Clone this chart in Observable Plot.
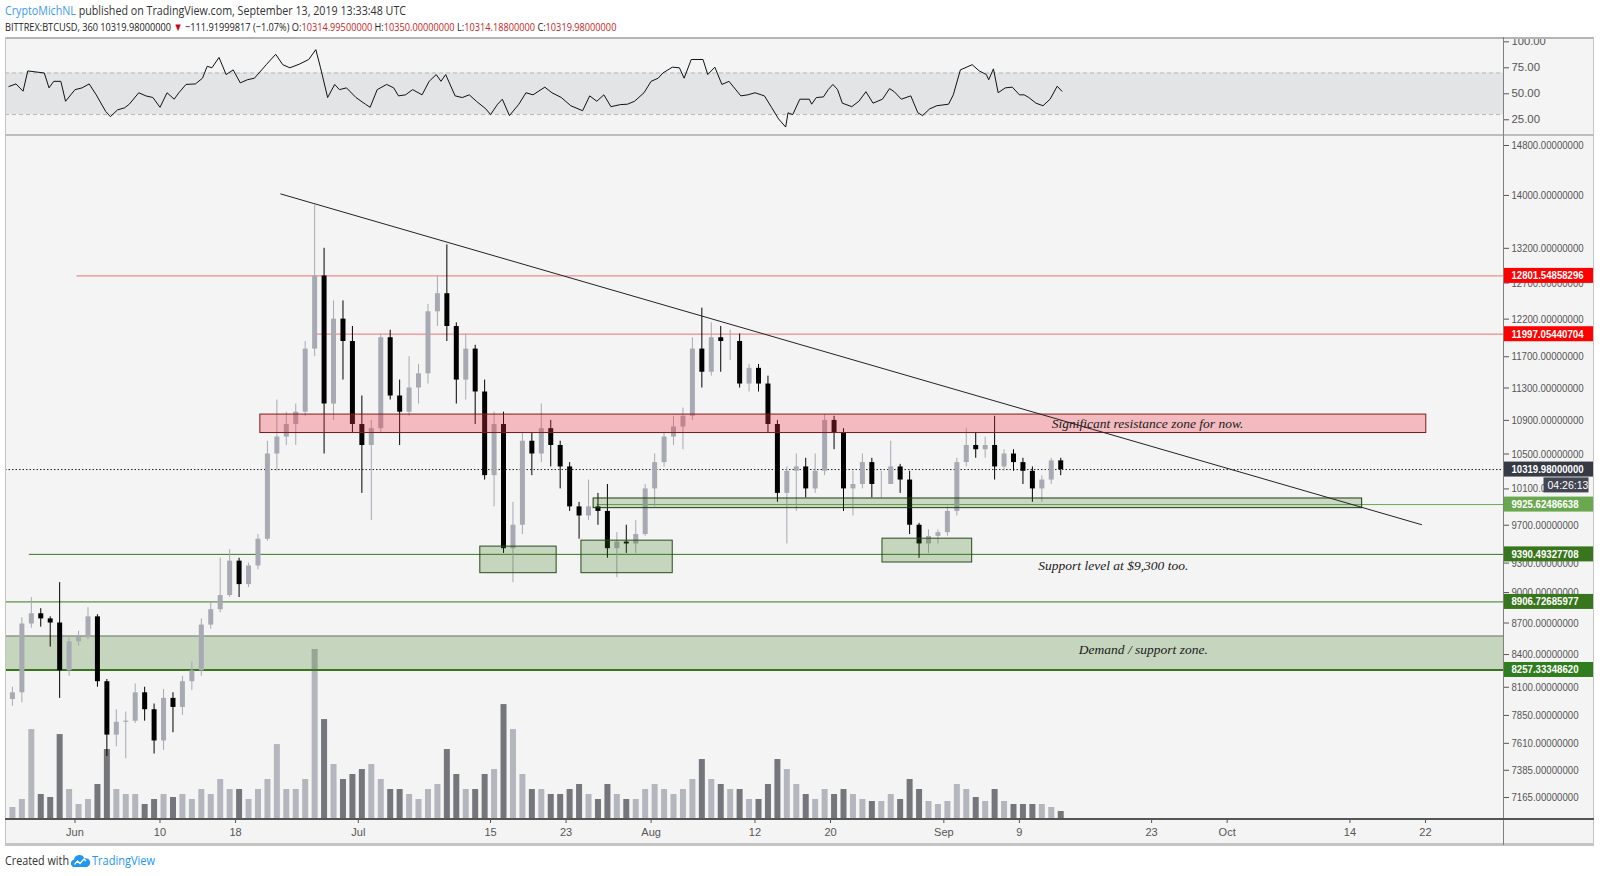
<!DOCTYPE html>
<html>
<head>
<meta charset="utf-8">
<script src="https://cdn.jsdelivr.net/npm/d3@7"></script>
<script src="https://cdn.jsdelivr.net/npm/@observablehq/plot@0.6"></script>
<style>
  html, body { margin:0; padding:0; background:#ffffff; }
  body { width:1600px; height:876px; position:relative; overflow:hidden; font-family:"Liberation Sans", Arial, sans-serif; }
  .abs { position:absolute; }
</style>
</head>
<body>
<svg class="abs" id="hdr" style="left:0;top:0" width="1600" height="36">
  <text id="h1" x="0" y="0" font-family="Open Sans" font-size="12" fill="#333"><tspan fill="#3d9be9">CryptoMichNL</tspan> published on TradingView.com, September 13, 2019 13:33:48 UTC</text>
  <text id="h2" x="0" y="0" font-family="Open Sans" font-size="11.5" fill="#222">BITTREX:BTCUSD, 360 10319.98000000 <tspan fill="#d0021b">▼</tspan> −111.91999817 (−1.07%) O:<tspan fill="#c62828">10314.99500000</tspan> H:<tspan fill="#c62828">10350.00000000</tspan> L:<tspan fill="#c62828">10314.18800000</tspan> C:<tspan fill="#c62828">10319.98000000</tspan></text>
</svg>
<div class="abs" style="left:5px;top:37px;width:1589px;height:808px;background:#f4f4f4"></div>
<div class="abs" id="rsiPane" style="left:0;top:36px"></div>
<div class="abs" id="volPane" style="left:0;top:134px"></div>
<div class="abs" id="mainPane" style="left:0;top:134px"></div>
<div class="abs" style="left:5px;top:37px;width:1589px;height:2px;background:#b4b4b4"></div>
<div class="abs" style="left:5px;top:37px;width:1px;height:808px;background:#c4c4c4"></div>
<div class="abs" style="left:1593px;top:37px;width:1px;height:808px;background:#c4c4c4"></div>
<div class="abs" style="left:5px;top:843px;width:1589px;height:3px;background:#c4c4c4"></div>
<div class="abs" style="left:5px;top:134px;width:1589px;height:2px;background:#bdbdbd"></div>
<div class="abs" style="left:1503px;top:37px;width:1px;height:808px;background:#808080"></div>
<div class="abs" style="left:5px;top:818px;width:1589px;height:2px;background:#555555"></div>
<svg class="abs" style="left:0;top:846px" width="300" height="30">
  <text x="5" y="19" font-family="Open Sans" font-size="12" textLength="64" lengthAdjust="spacingAndGlyphs" fill="#333">Created with</text>
  <path d="M73,21 a4,4 0 0 1 1,-7.5 a5.5,5.5 0 0 1 10.5,-1 a4.3,4.3 0 0 1 2.5,8.5 z" fill="#2196f3"/>
  <polyline points="74.5,18.5 77.5,15 80,17.5 84,13 86,15" fill="none" stroke="#ffffff" stroke-width="1.3"/>
  <text x="92" y="19" font-family="Open Sans" font-size="12" textLength="63" lengthAdjust="spacingAndGlyphs" fill="#2196f3">TradingView</text>
</svg>
<script>
// ---------------- DATA ----------------
const candleDays = ["05-25","05-26","05-27","05-28","05-29","05-30","05-31","06-01","06-02","06-03","06-04","06-05","06-06","06-07","06-08","06-09","06-10","06-11","06-12","06-13","06-14","06-15","06-16","06-17","06-18","06-19","06-20","06-21","06-22","06-23","06-24","06-25","06-26","06-27","06-28","06-29","06-30","07-01","07-02","07-03","07-04","07-05","07-06","07-07","07-08","07-09","07-10","07-11","07-12","07-13","07-14","07-15","07-16","07-17","07-18","07-19","07-20","07-21","07-22","07-23","07-24","07-25","07-26","07-27","07-28","07-29","07-30","07-31","08-01","08-02","08-03","08-04","08-05","08-06","08-07","08-08","08-09","08-10","08-11","08-12","08-13","08-14","08-15","08-16","08-17","08-18","08-19","08-20","08-21","08-22","08-23","08-24","08-25","08-26","08-27","08-28","08-29","08-30","08-31","09-01","09-02","09-03","09-04","09-05","09-06","09-07","09-08","09-09","09-10","09-11","09-12","09-13"];
const opens  = [7990,8050,8690,8790,8740,8700,8250,8520,8560,8760,8150,7680,7790,7800,8050,7900,7630,8000,7920,8150,8250,8680,8830,8970,9320,9080,9270,9550,10500,10700,10850,11000,11800,12800,11100,12200,11900,10850,10600,10800,11950,11200,11000,11300,11480,12300,12550,12100,11400,11800,11250,10250,10850,9450,9700,10650,10500,10800,10600,10350,9900,9800,9900,9850,9450,9520,9500,9600,10100,10400,10700,10820,10950,11800,11500,11950,11900,11900,11350,11550,11350,10850,10050,10300,10350,10100,10300,10900,10750,10100,10150,10400,10150,10150,10350,10200,9700,9500,9580,9620,9850,10400,10600,10550,10600,10350,10500,10400,10300,10100,10200,10420];
const highs  = [8100,8750,8950,8840,8760,9100,8570,8620,8850,8780,8170,7900,7880,8130,8100,7950,8080,8050,8200,8330,8740,8900,9350,9440,9350,9300,9600,10650,11150,11000,11100,11900,13850,13200,12450,12450,12100,11200,10900,12000,12050,11400,11700,11600,12400,12800,13250,12150,12000,11850,11400,11000,11000,9950,10750,10750,11100,10900,10650,10400,9950,10200,10050,10150,9620,9700,9750,10150,10500,10750,10950,11050,11950,12350,12150,12100,12050,12000,11600,11600,11450,10900,10350,10500,10450,10500,10970,10950,10800,10300,10500,10450,10300,10650,10380,10300,9720,9650,9650,9900,10450,10800,10750,10700,10950,10550,10550,10450,10350,10250,10450,10450];
const lows   = [7930,7960,8650,8660,8470,8000,8200,8480,8540,8100,7500,7580,7480,7780,7800,7520,7550,7700,7850,8070,8200,8640,8800,8950,8950,9050,9230,9530,10300,10600,10600,10950,11700,10500,10900,11400,10750,10050,9750,10750,11150,10600,10950,11100,11350,12100,11900,11100,11150,10850,10200,9900,9400,9100,9600,10250,10400,10350,10100,9850,9550,9750,9700,9350,9150,9400,9400,9580,9900,10350,10600,10550,10900,11300,11450,11500,11650,11300,11250,11250,10750,9950,9500,9850,10000,10050,10250,10550,9850,9800,10100,10000,10000,10150,10050,9600,9350,9400,9500,9580,9800,10350,10450,10450,10200,10300,10300,10150,9950,9950,10150,10250];
const closes = [8050,8690,8790,8740,8700,8250,8520,8560,8760,8150,7680,7790,7800,8050,7900,7630,8000,7920,8150,8250,8680,8830,8970,9320,9080,9270,9550,10500,10700,10850,11000,11800,12800,11100,12200,11900,10850,10600,10800,11950,11200,11000,11300,11480,12300,12550,12100,11400,11800,11250,10250,10850,9450,9700,10650,10500,10800,10600,10350,9900,9800,9900,9850,9450,9520,9500,9600,10100,10400,10700,10820,10950,11800,11500,11950,11900,11900,11350,11550,11350,10850,10050,10300,10350,10100,10300,10900,10750,10100,10150,10400,10150,10150,10350,10200,9700,9500,9580,9620,9850,10400,10600,10550,10600,10350,10500,10400,10300,10100,10200,10420,10320];
const volumes = [120,200,900,250,220,850,300,150,200,350,700,300,250,250,150,200,250,220,250,200,300,250,400,300,300,200,300,400,750,300,300,400,1700,1000,550,400,450,500,550,400,300,300,250,200,300,350,700,450,300,300,450,500,1150,900,450,300,300,250,250,300,350,250,200,350,250,200,200,300,350,300,250,300,400,600,400,350,300,300,200,200,350,600,500,350,250,200,300,250,300,250,200,180,180,250,200,400,300,180,150,180,350,300,220,180,300,180,150,150,150,150,120,80];

const rsiTimes = ["05-25 00","05-25 18","05-26 12","05-27 00","05-28 18","05-29 06","05-29 18","05-30 12","05-31 00","06-01 00","06-01 18","06-02 12","06-03 06","06-04 06","06-04 18","06-05 12","06-06 06","06-06 18","06-07 18","06-08 12","06-09 06","06-10 00","06-10 18","06-11 12","06-12 00","06-12 18","06-13 18","06-14 12","06-15 00","06-15 12","06-16 06","06-17 00","06-17 18","06-18 12","06-19 06","06-20 00","06-21 06","06-22 06","06-23 00","06-23 18","06-24 18","06-25 18","06-26 12","06-27 00","06-27 18","06-28 12","06-29 00","06-29 18","06-30 18","07-01 18","07-02 06","07-03 00","07-04 00","07-04 18","07-05 06","07-06 00","07-06 18","07-07 18","07-08 12","07-09 06","07-09 18","07-10 06","07-11 06","07-12 00","07-12 18","07-13 12","07-14 12","07-15 00","07-15 18","07-16 06","07-17 00","07-18 00","07-18 18","07-19 12","07-20 18","07-21 12","07-22 12","07-23 12","07-24 18","07-25 12","07-26 06","07-27 00","07-27 18","07-28 18","07-29 12","07-30 06","07-31 06","08-01 00","08-01 18","08-02 06","08-03 06","08-04 00","08-04 12","08-05 06","08-06 12","08-07 00","08-07 18","08-08 12","08-09 06","08-10 12","08-11 06","08-12 00","08-13 00","08-13 18","08-14 12","08-15 06","08-15 12","08-16 00","08-16 18","08-17 18","08-18 00","08-18 12","08-19 06","08-19 18","08-20 06","08-20 18","08-21 06","08-22 06","08-23 00","08-23 18","08-24 12","08-25 12","08-26 06","08-26 18","08-27 12","08-28 12","08-29 06","08-29 18","08-30 12","08-31 06","09-01 12","09-02 00","09-02 18","09-04 00","09-04 18","09-05 12","09-05 18","09-06 06","09-06 18","09-07 12","09-08 06","09-09 00","09-09 12","09-10 00","09-10 18","09-11 12","09-12 06","09-13 00","09-13 12"];
const rsiValues = [57,59.5,52.5,72,70,55.7,62,62,42.8,54,55.7,59.5,49,33,28,34.5,36.5,40,51,48,46.4,37,51,44.8,51,59,59.5,65,76.5,75,85,68.5,73,60.5,63.5,65,78,88,78,75,78.5,83,92.5,75,46.4,59,54,55.7,46.4,40,37,54,59,55.7,48,49,54,49,62,68.5,62,68.5,48,46.4,49,42.8,35.5,30,40,44.8,29,40,51,49,56.4,51,46.4,38.5,33.7,48,42.8,49,37.6,39.6,40,42.8,51,62,65,70,75.6,75,65,83,83,68.5,75.6,59,62,48,49,51,48,37,25.8,18,31.7,30,44.8,44.8,40,46.4,47,54,59,54,41,37.6,42.8,52,41,44.8,55,52,44.8,48,31.7,29,35.5,38.5,40,49,73,78,72,68.5,63.5,74,51,55.7,56.4,49,49,46.4,41,38.5,44.8,57.3,52.5];

const priceTicks = [7165,7385,7610,7850,8100,8400,8700,9000,9300,9700,10100,10500,10900,11300,11700,12200,12700,13200,14000,14800];
const rsiTicks = [25,50,75,100];
const xTickDays = ["06-01","06-10","06-18","07-01","07-15","07-23","08-01","08-12","08-20","09-01","09-09","09-23","10-01","10-14","10-22"];
const xTickLabels = ["Jun","10","18","Jul","15","23","Aug","12","20","Sep","9","23","Oct","14","22"];

const lastPrice = 10319.98;
const countdown = "04:26:13";
const redLevels = [12801.54858296, 11997.05440704];
const redLevelStarts = ["2019-06-01T05:00Z","2019-06-26T09:00Z"];
const greenLevels = [9925.62486638, 9390.49327708, 8906.72685977, 8257.33348620];
const greenLevelStarts = ["2019-07-26T07:00Z","2019-05-27T04:00Z","2019-05-24T15:23Z","2019-05-24T15:23Z"];
const resistanceZone = {start:"2019-06-20T15:00Z", end:"2019-10-22T02:00Z", low:10748, high:10971};
const rangeBox = {start:"2019-07-25T22:00Z", end:"2019-10-15T07:00Z", low:9886, high:9993};
const demandZone = {start:"2019-05-24T15:23Z", end:"2019-10-30T06:14Z", low:8257.33348620, high:8575};
const supportBoxStarts = ["2019-07-13T22:00Z","2019-07-24T15:00Z","2019-08-25T12:00Z"];
const supportBoxEnds   = ["2019-07-22T00:00Z","2019-08-03T07:00Z","2019-09-04T00:00Z"];
const supportBoxLows   = [9196, 9196, 9306];
const supportBoxHighs  = [9472, 9535, 9556];
const trendDates  = ["2019-06-22T19:00Z","2019-10-21T14:00Z"];
const trendPrices = [14023, 9706];
const notes = ["Significant resistance zone for now.","Support level at $9,300 too.","Demand / support zone."];
const noteDates = ["2019-09-12T10:00Z","2019-09-11T00:00Z","2019-09-15T07:00Z"];
const notePrices = [10862, 9275, 8448];

// ---------------- BUILD ----------------
const xStart = new Date("2019-05-24T15:23:00Z");
const xEnd = new Date("2019-10-30T06:14:00Z");
const xDomain = [xStart, xEnd];
const yDomain = [6991.6, 14948.9];

const candles = candleDays.map((d, i) => ({
  date: new Date(`2019-${d}T09:00:00Z`), open: opens[i], high: highs[i], low: lows[i], close: closes[i], volume: volumes[i]
}));
const rsi = rsiTimes.map((t, i) => ({date: new Date(`2019-${t.slice(0,5)}T${t.slice(6)}:00:00Z`), value: rsiValues[i]}));
const tickDates = xTickDays.map(d => new Date(`2019-${d}T00:00:00Z`));
const tickLabelMap = new Map(tickDates.map((d, i) => [+d, xTickLabels[i]]));
const redLines = redLevels.map((p, i) => ({price: p, start: new Date(redLevelStarts[i])}));
const greenLines = greenLevels.map((p, i) => ({price: p, start: new Date(greenLevelStarts[i])}));
const zoneRow = z => ({start: new Date(z.start), end: new Date(z.end), low: z.low, high: z.high});
const supportBoxes = supportBoxStarts.map((s, i) => ({start: new Date(s), end: new Date(supportBoxEnds[i]), low: supportBoxLows[i], high: supportBoxHighs[i]}));
const trend = trendDates.map((d, i) => ({date: new Date(d), price: trendPrices[i]}));
const noteRows = notes.map((t, i) => ({text: t, date: new Date(noteDates[i]), price: notePrices[i]}));
const levelLabels = [redLevels[0], redLevels[1], lastPrice, ...greenLevels];
const levelColors = ["#ff0000","#ff0000","#363a45","#6aa84f","#38761d","#38761d","#2f7d1e"];

const up = d => d.close >= d.open;
const FONT = "Liberation Sans, Arial, sans-serif";
const common = {width: 1600, marginLeft: 5, marginRight: 97};

// RSI pane
const rsiSvg = Plot.plot({
  ...common, height: 98, marginTop: 2, marginBottom: 1,
  x: {type: "utc", domain: xDomain, axis: null},
  y: {domain: [11.8, 103.2], axis: null, label: null},
  style: {background: "transparent", overflow: "visible", fontFamily: FONT},
  marks: [
    Plot.rect([0], {x1: () => xStart, x2: () => xEnd, y1: () => 30, y2: () => 70, fill: "#e3e4e6"}),
    Plot.ruleY([30, 70], {stroke: "#b8b8b8", strokeDasharray: "4,3"}),
    Plot.line(rsi, {x: "date", y: "value", stroke: "#111", strokeWidth: 1}),
    Plot.axisY({anchor: "right", ticks: rsiTicks, tickFormat: d => d.toFixed(2), tickSize: 5, tickPadding: 3, fontSize: 11, color: "#555", label: null})
  ]
});
document.getElementById("rsiPane").append(rsiSvg);

// Volume (overlaid beneath the price pane)
const volSvg = Plot.plot({
  ...common, height: 711, marginTop: 2, marginBottom: 26,
  x: {type: "utc", domain: xDomain, axis: null},
  y: {domain: [0, d3.max(volumes) * 4.02], axis: null},
  style: {background: "transparent", overflow: "visible"},
  marks: [
    Plot.ruleX(candles, {x: "date", y1: 0, y2: "volume", stroke: d => up(d) ? "#b4b6bd" : "#74767c", strokeWidth: 6})
  ]
});
document.getElementById("volPane").append(volSvg);

// Price pane
const mainSvg = Plot.plot({
  ...common, height: 711, marginTop: 2, marginBottom: 26,
  x: {type: "utc", domain: xDomain, label: null},
  y: {type: "log", domain: yDomain, label: null},
  style: {background: "transparent", overflow: "visible", fontFamily: FONT},
  marks: [
    Plot.rect([zoneRow(demandZone)], {x1: "start", x2: "end", y1: "low", y2: "high", fill: "#38761d", fillOpacity: 0.25}),
    Plot.ruleY([demandZone.high], {x1: () => xStart, x2: () => xEnd, stroke: "#6f7a6a", strokeWidth: 1}),
    Plot.ruleY(greenLines, {y: "price", x1: "start", x2: () => xEnd, stroke: (d, i) => i === 0 ? "#6aa84f" : "#38761d", strokeWidth: (d, i) => i === 3 ? 2 : 1}),
    Plot.ruleY(redLines, {y: "price", x1: "start", x2: () => xEnd, stroke: "#f28b8b", strokeWidth: 1.3}),
    Plot.ruleY([lastPrice], {x1: () => xStart, x2: () => xEnd, stroke: "#222", strokeDasharray: "1.5,2"}),
    Plot.ruleX(candles, {x: "date", y1: "low", y2: "high", stroke: d => up(d) ? "#a7aab2" : "#000000", strokeWidth: 1}),
    Plot.ruleX(candles, {x: "date", y1: "open", y2: "close", stroke: d => up(d) ? "#a7aab2" : "#000000", strokeWidth: 5}),
    Plot.rect([zoneRow(resistanceZone)], {x1: "start", x2: "end", y1: "low", y2: "high", fill: "#f23645", fillOpacity: 0.3, stroke: "#7a1a1a", strokeWidth: 1}),
    Plot.rect([zoneRow(rangeBox)], {x1: "start", x2: "end", y1: "low", y2: "high", fill: "#38761d", fillOpacity: 0.22, stroke: "#1e3a12", strokeWidth: 1}),
    Plot.rect(supportBoxes, {x1: "start", x2: "end", y1: "low", y2: "high", fill: "#38761d", fillOpacity: 0.25, stroke: "#2a4a1e", strokeWidth: 1}),
    Plot.line(trend, {x: "date", y: "price", stroke: "#222", strokeWidth: 1}),
    Plot.text(noteRows, {x: "date", y: "price", text: "text", textAnchor: "start", fontFamily: "Liberation Serif, Times New Roman, serif", fontStyle: "italic", fontSize: 13.5, fill: "#1a1a1a"}),
    Plot.axisY({anchor: "right", ticks: priceTicks, tickFormat: d => d.toFixed(8), tickSize: 5, tickPadding: 3, fontSize: 11, color: "#555", label: null}),
    Plot.axisX({ticks: tickDates, tickFormat: d => tickLabelMap.get(+d), tickSize: 4, tickPadding: 5, fontSize: 11, color: "#555", label: null}),
    Plot.text(levelLabels, {x: () => xEnd, y: d => d, text: d => d.toFixed(8), dx: 8, textAnchor: "start", fill: "#ffffff", fontWeight: "bold", fontSize: 11}),
    Plot.text([lastPrice], {x: () => xEnd, y: d => d, text: () => countdown, dx: 44, dy: 16, textAnchor: "start", fill: "#ffffff", fontSize: 10.5})
  ]
});
document.getElementById("mainPane").append(mainSvg);

// ---------------- post-process: narrow price labels, label boxes, header fit ----------------
function tighten(svg) {
  svg.querySelectorAll("text").forEach(t => {
    const s = t.textContent;
    if (/^\d+\.\d+$/.test(s)) {
      const target = s.length * (s.length >= 12 ? 5.15 : 5.7);
      t.setAttribute("textLength", target.toFixed(1));
      t.setAttribute("lengthAdjust", "spacingAndGlyphs");
    }
  });
}
function boxFor(t, color, padL, width) {
  const b = t.getBBox();
  const r = document.createElementNS("http://www.w3.org/2000/svg", "rect");
  r.setAttribute("x", b.x - padL);
  r.setAttribute("y", b.y + b.height / 2 - 7.5);
  r.setAttribute("width", width);
  r.setAttribute("height", 15);
  r.setAttribute("fill", color);
  const tr = t.getAttribute("transform");
  if (tr) r.setAttribute("transform", tr);
  t.parentNode.insertBefore(r, t);
}
tighten(rsiSvg);
tighten(mainSvg);
const labelColorMap = new Map(levelLabels.map((p, i) => [p.toFixed(8), levelColors[i]]));
mainSvg.querySelectorAll("text").forEach(t => {
  const s = t.textContent;
  const inAxis = t.closest('g[aria-label*="axis"]');
  if (!inAxis && labelColorMap.has(s)) boxFor(t, labelColorMap.get(s), 8, 90);
  else if (s === countdown) boxFor(t, "#434651", 4, 45);
});
function fitHeader(id, x, y, width) {
  const t = document.getElementById(id);
  const w = t.getBBox().width;
  t.setAttribute("transform", `translate(${x},${y}) scale(${(width / w).toFixed(4)},1)`);
}
fitHeader("h1", 5, 15, 402);
fitHeader("h2", 5, 31, 612);
</script>
</body>
</html>
